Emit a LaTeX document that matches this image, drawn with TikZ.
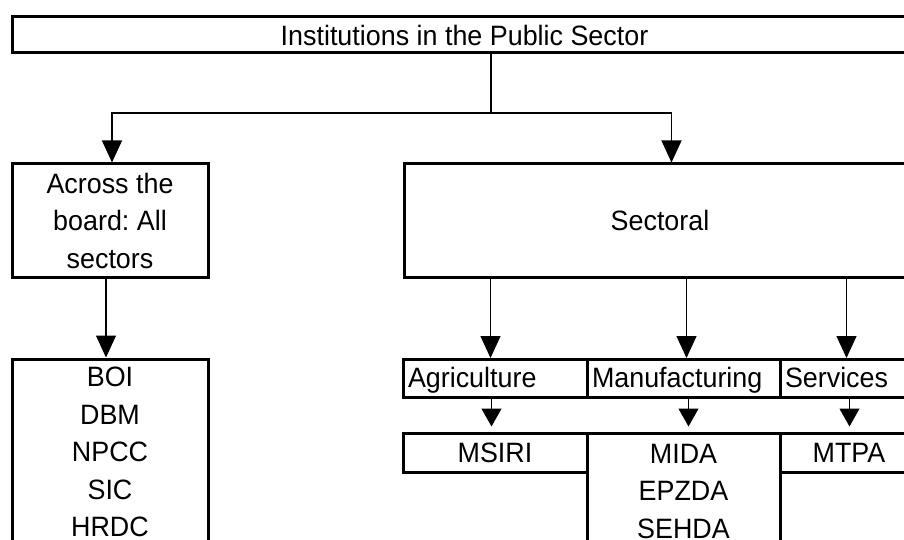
\documentclass[tikz,border=0pt]{standalone}
\usepackage{fontspec}
\setmainfont{Liberation Sans}[FakeStretch=0.96]
\usetikzlibrary{calc,arrows.meta}

\begin{document}
\frenchspacing
\begin{tikzpicture}[%
    x=1pt, y=-1pt,
    font=\fontsize{28pt}{37.5pt}\selectfont,
    unitBox/.style={
      rectangle,
      draw=black,
      line width=3pt,
      inner sep=0pt,
      align=center
    },
    sectorName/.style={
      unitBox,
      minimum height=38pt,
      text height=22pt,
      text depth=4pt,
      inner xsep=5pt,
      align=left
    },
    link/.style={
      line width=1.2pt,
      -{Triangle[length=22pt,width=20pt]}
    },
    shortLink/.style={
      line width=1.2pt,
      shorten >=5pt,
      -{Triangle[length=18pt,width=20pt]}
    }
  ]

    % Page frame
    \useasboundingbox (0,0) rectangle (904,540);
    \clip (0,0) rectangle (904,540);

    \draw (464.5,35) node[unitBox, minimum width=905pt, minimum height=36pt] (Top) {Institutions in the Public Sector}
          (110,220.5) node[unitBox, minimum width=196pt, minimum height=113pt] (Across) {Across the\\board: All\\sectors}
          (660,220.5) node[unitBox, minimum width=512pt, minimum height=113pt] (Sectoral) {Sectoral}
          (110,452) node[unitBox, minimum width=196pt, minimum height=186pt] (List) {BOI\\DBM\\NPCC\\SIC\\HRDC}
          (495,378.5) node[sectorName, text width=174pt] (Agri) {Agriculture}
          (683.5,378.5) node[sectorName, text width=183pt] (Manu) {Manufacturing}
          (855,378.5) node[sectorName, text width=140pt] (Serv) {Services}
          (495,452.5) node[unitBox, minimum width=184pt, minimum height=39pt] (Msiri) {MSIRI}
          (683.5,491) node[unitBox, minimum width=193pt, minimum height=116pt] (Mida) {MIDA\\EPZDA\\SEHDA}
          (849,452.5) node[unitBox, minimum width=138pt, minimum height=39pt] (Mtpa) {MTPA};

    \coordinate (split) at (491,113);
    \draw[line width=1.2pt] (Top.south -| split) -- (split);
    \draw[link] (split) -| ($(Across.north)+(2,0)$);
    \draw[link] (split) -| ($(Sectoral.north west)+(269,0)$);

    \draw[link] ($(Across.south)+(-4,0)$) -- ($(List.north)+(-4,0)$);

    \coordinate (s1) at ($(Sectoral.south west)+(88,0)$);
    \coordinate (s2) at ($(Sectoral.south west)+(284,0)$);
    \coordinate (s3) at ($(Sectoral.south west)+(444,0)$);
    \draw[link] (s1) -- (s1 |- Agri.north);
    \draw[link] (s2) -- (s2 |- Manu.north);
    \draw[link] (s3) -- (s3 |- Serv.north);

    \draw[shortLink] ($(Agri.south west)+(90,0)$) coordinate (a1) -- (a1 |- Msiri.north);
    \draw[shortLink] ($(Manu.south west)+(103,0)$) coordinate (a2) -- (a2 |- Mida.north);
    \draw[shortLink] ($(Serv.south west)+(71,0)$) coordinate (a3) -- (a3 |- Mtpa.north);
\end{tikzpicture}
\end{document}
